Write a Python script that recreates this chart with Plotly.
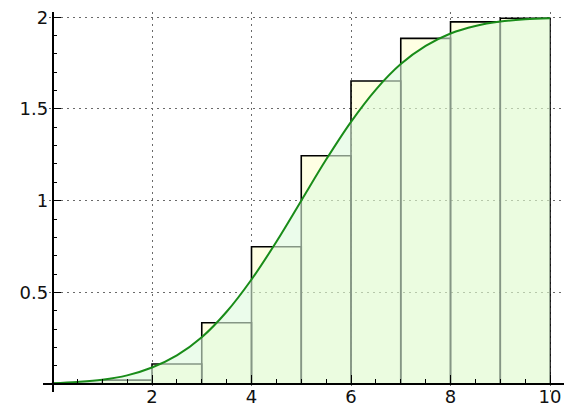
import plotly.graph_objects as go

# Step heights on the unit intervals [k, k+1], k = 0..9
bin_edges = [0, 1, 2, 3, 4, 5, 6, 7, 8, 9, 10]
step_heights = [0.002, 0.021, 0.109, 0.334, 0.749, 1.245, 1.653, 1.885, 1.975, 1.995]

# Smooth curve sampled every 0.5
curve_x = [0, 0.5, 1, 1.5, 2, 2.5, 3, 3.5, 4, 4.5, 5,
           5.5, 6, 6.5, 7, 7.5, 8, 8.5, 9, 9.5, 10]
curve_y = [0.004, 0.011, 0.023, 0.047, 0.09, 0.156, 0.255, 0.394, 0.57, 0.776, 1.0,
           1.224, 1.43, 1.606, 1.745, 1.844, 1.912, 1.953, 1.977, 1.989, 1.995]

x_ticks = [2, 4, 6, 8, 10]
y_ticks = [0.5, 1, 1.5, 2]
y_tick_text = ["0.5", "1", "1.5", "2"]

# Closed rectangle outlines for every bin, separated by gaps
rect_x, rect_y = [], []
for a, b, h in zip(bin_edges[:-1], bin_edges[1:], step_heights):
    rect_x += [a, a, b, b, a, None]
    rect_y += [0, h, h, 0, 0, None]

fig = go.Figure()
fig.add_trace(go.Scatter(
    x=rect_x, y=rect_y, mode="lines", fill="toself",
    fillcolor="rgba(255,255,0,0.11)",
    line=dict(color="black", width=1.6),
    hoverinfo="skip",
))
fig.add_trace(go.Scatter(
    x=curve_x, y=curve_y, mode="lines", fill="tozeroy",
    fillcolor="rgba(222,250,222,0.6)",
    line=dict(color="rgb(25,140,25)", width=2, shape="spline", smoothing=1.0),
))

x_range = [-0.191, 10.281]
y_range = [-0.0436, 2.029]

fig.update_layout(
    width=564, height=409,
    margin=dict(l=43, r=0, t=12, b=17),
    paper_bgcolor="white", plot_bgcolor="white",
    showlegend=False,
    font=dict(family="DejaVu Sans", size=18, color="#111"),
    xaxis=dict(
        range=x_range, anchor="free",
        position=(0 - y_range[0]) / (y_range[1] - y_range[0]),
        tickvals=x_ticks, ticktext=[str(v) for v in x_ticks],
        ticklabelstandoff=-3,
        showline=True, linecolor="black", linewidth=1.6,
        ticks="inside", ticklen=8, tickwidth=1.3, tickcolor="black",
        minor=dict(dtick=0.5, tick0=0, ticks="inside", ticklen=4,
                   tickwidth=1.1, tickcolor="black", showgrid=False),
        showgrid=True, gridcolor="#6a6a6a", gridwidth=1.2, griddash="2px,4px",
        zeroline=False, automargin=False,
    ),
    yaxis=dict(
        range=y_range, anchor="free",
        position=(0 - x_range[0]) / (x_range[1] - x_range[0]),
        tickvals=y_ticks, ticktext=y_tick_text,
        showline=True, linecolor="black", linewidth=1.6,
        ticks="inside", ticklen=8, tickwidth=1.3, tickcolor="black",
        minor=dict(dtick=0.1, tick0=0, ticks="inside", ticklen=4,
                   tickwidth=1.1, tickcolor="black", showgrid=False),
        showgrid=True, gridcolor="#6a6a6a", gridwidth=1.2, griddash="2px,4px",
        zeroline=False, automargin=False,
    ),
)

fig.write_html("out.html")
